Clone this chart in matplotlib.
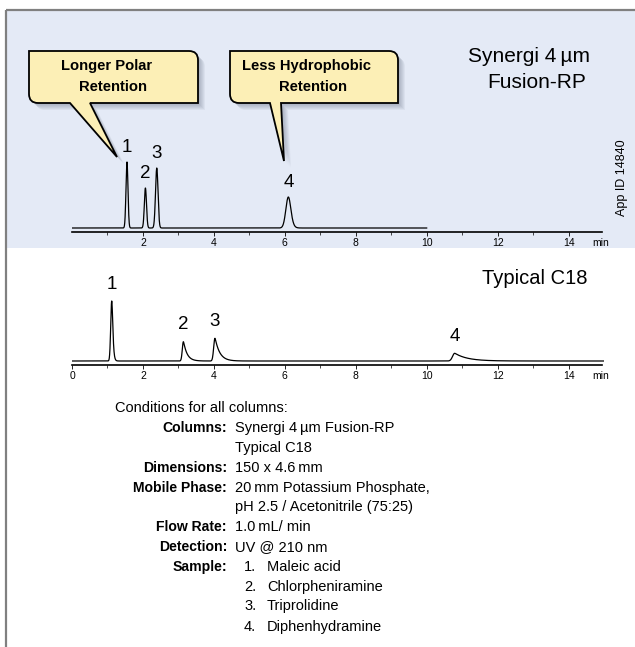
import numpy as np
import matplotlib
matplotlib.use("Agg")
import matplotlib.pyplot as plt
from matplotlib.path import Path
from matplotlib.patches import PathPatch, Rectangle

# peaks (time in min, height in detector units)
peak_ids = ["1", "2", "3", "4"]
fusion_rt = [1.55, 2.07, 2.39, 6.10]
fusion_height = [66, 40, 60, 31]
fusion_sigma = [0.028, 0.03, 0.035, 0.07]
fusion_tail = [0.0, 0.0, 0.0, 0.03]
fusion_end = 10.0

c18_rt = [1.12, 3.14, 4.03, 10.79]
c18_height = [60, 19.3, 22.7, 7.7]
c18_sigma = [0.028, 0.03, 0.035, 0.06]
c18_tail = [0.02, 0.1, 0.13, 0.35]
c18_end = 15.0

major_ticks = [0, 2, 4, 6, 8, 10, 12, 14]
minor_ticks = [1, 3, 5, 7, 9, 11, 13]

cond_labels = ["Columns:", "", "Dimensions:", "Mobile Phase:", "", "Flow Rate:",
               "Detection:", "Sample:", "", "", ""]
cond_values = ["Synergi 4\u2009\u00b5m Fusion-RP", "Typical C18", "150 x 4.6\u2009mm",
               "20\u2009mm Potassium Phosphate,", "pH 2.5 / Acetonitrile (75:25)",
               "1.0\u2009mL/ min", "UV @ 210 nm"]
sample_names = ["Maleic acid", "Chlorpheniramine", "Triprolidine", "Diphenhydramine"]

W, H = 635, 647
REG = ["Liberation Sans", "DejaVu Sans"]
BASE = 4


def peak(t, t0, h, s, tau):
    d = t - t0
    y = np.exp(-0.5 * (d / s) ** 2)
    if tau > 0:
        c = s * s / tau
        right = np.exp(-(np.sqrt(d * d + c * c) - c) / tau)
        y = np.where(d > 0, right, y)
    return h * y


def trace(rts, hs, ss, taus, end):
    t = np.linspace(0, end, 3000)
    y = np.full_like(t, BASE, dtype=float)
    for t0, h, s, tau in zip(rts, hs, ss, taus):
        y += peak(t, t0, h, s, tau)
    return t, y


fig = plt.figure(figsize=(W / 100, H / 100), dpi=100)

bg = fig.add_axes([0, 0, 1, 1], zorder=0)
bg.set_xlim(0, W)
bg.set_ylim(H, 0)
bg.axis("off")
bg.add_patch(Rectangle((7, 11), W - 7, 237, facecolor="#e4eaf6", edgecolor="none"))
bg.plot([6, 6], [10, H], color="#808080", lw=1.6, solid_capstyle="butt")
bg.plot([6, W], [10, 10], color="#808080", lw=1.6, solid_capstyle="butt")


def chrom(top_px, rts, hs, ss, taus, end, show_zero, lab_off):
    ax = fig.add_axes([72 / W, 1 - top_px / H, 532 / W, 100 / H], zorder=2)
    ax.patch.set_alpha(0)
    t, y = trace(rts, hs, ss, taus, end)
    ax.plot(t, y, color="black", lw=0.9)
    ax.set_xlim(0, 15)
    ax.set_ylim(0, 100)
    for s in ["top", "left", "right"]:
        ax.spines[s].set_visible(False)
    ax.spines["bottom"].set_bounds(0, 14.93)
    ax.spines["bottom"].set_linewidth(1.2)
    ticks = major_ticks if show_zero else major_ticks[1:]
    ax.set_xticks(ticks)
    ax.set_xticklabels([str(v) for v in ticks], fontsize=7.5, family=REG)
    ax.set_xticks(minor_ticks, minor=True)
    ax.tick_params(axis="x", which="major", length=3, width=0.6, pad=1.5)
    ax.tick_params(axis="x", which="minor", length=2, width=0.5)
    ax.set_yticks([])
    for lab, t0, h in zip(peak_ids, rts, hs):
        ax.text(t0, BASE + h + lab_off, lab, ha="center", va="center",
                fontsize=13.5, family=REG)
    return ax


chrom(232, fusion_rt, fusion_height, fusion_sigma, fusion_tail, fusion_end, False, 14)
chrom(365, c18_rt, c18_height, c18_sigma, c18_tail, c18_end, True, 17)

fg = fig.add_axes([0, 0, 1, 1], zorder=5)
fg.patch.set_alpha(0)
fg.set_xlim(0, W)
fg.set_ylim(H, 0)
fg.axis("off")


def callout(L, T, R, B, b1, b2, tip, r=9):
    verts = [(L, T), (R - r, T), (R, T), (R, T + r), (R, B), (b2, B), tip, (b1, B),
             (L + r, B), (L, B), (L, B - r), (L, T), (L, T)]
    codes = [Path.MOVETO, Path.LINETO, Path.CURVE3, Path.CURVE3, Path.LINETO,
             Path.LINETO, Path.LINETO, Path.LINETO, Path.LINETO, Path.CURVE3,
             Path.CURVE3, Path.LINETO, Path.CLOSEPOLY]
    for k in range(1, 8):
        sv = [(x + k, y + k) for x, y in verts]
        fg.add_patch(PathPatch(Path(sv, codes), facecolor="#404a60",
                               edgecolor="none", alpha=0.06))
    fg.add_patch(PathPatch(Path(verts, codes), facecolor="#fcefb6",
                           edgecolor="black", lw=1.3))


callout(29, 51, 198, 103, 70, 90, (117, 157))
callout(230, 51, 398, 103, 270, 281, (284, 161))

bold = dict(ha="center", va="center", fontsize=10.6, fontweight="bold", family=REG)
fg.text(107, 66, "Longer Polar", **bold)
fg.text(113, 87, "Retention", **bold)
fg.text(307, 66, "Less Hydrophobic", **bold)
fg.text(313, 87, "Retention", **bold)

fg.text(590, 57, "Synergi 4\u2009\u00b5m", ha="right", va="center", fontsize=15, family=REG)
fg.text(586, 82, "Fusion-RP", ha="right", va="center", fontsize=15, family=REG)
fg.text(482, 278, "Typical C18", ha="left", va="center", fontsize=14.5, family=REG)
fg.text(622, 178, "App ID 14840", rotation=90, ha="center", va="center",
        fontsize=9, family=REG)
fg.text(601, 243, "min", ha="center", va="center", fontsize=7.5, family=REG)
fg.text(601, 376, "min", ha="center", va="center", fontsize=7.5, family=REG)

fs_reg, fs_bold = 10.5, 10.1
fg.text(115, 408, "Conditions for all columns:", ha="left", va="center",
        fontsize=fs_reg, family=REG)
row_y = [428, 448, 468, 488, 507, 527, 547, 567, 587, 606, 627]
for lab, y in zip(cond_labels, row_y):
    if lab:
        fg.text(227, y, lab, ha="right", va="center", fontsize=fs_bold,
                fontweight="bold", family=REG)
for val, y in zip(cond_values, row_y):
    fg.text(235, y, val, ha="left", va="center", fontsize=fs_reg, family=REG)
for i, (name, y) in enumerate(zip(sample_names, row_y[7:])):
    fg.text(244, y, f"{i + 1}.", ha="left", va="center", fontsize=fs_reg, family=REG)
    fg.text(267, y, name, ha="left", va="center", fontsize=fs_reg, family=REG)

fig.savefig("out.png", dpi=100)
